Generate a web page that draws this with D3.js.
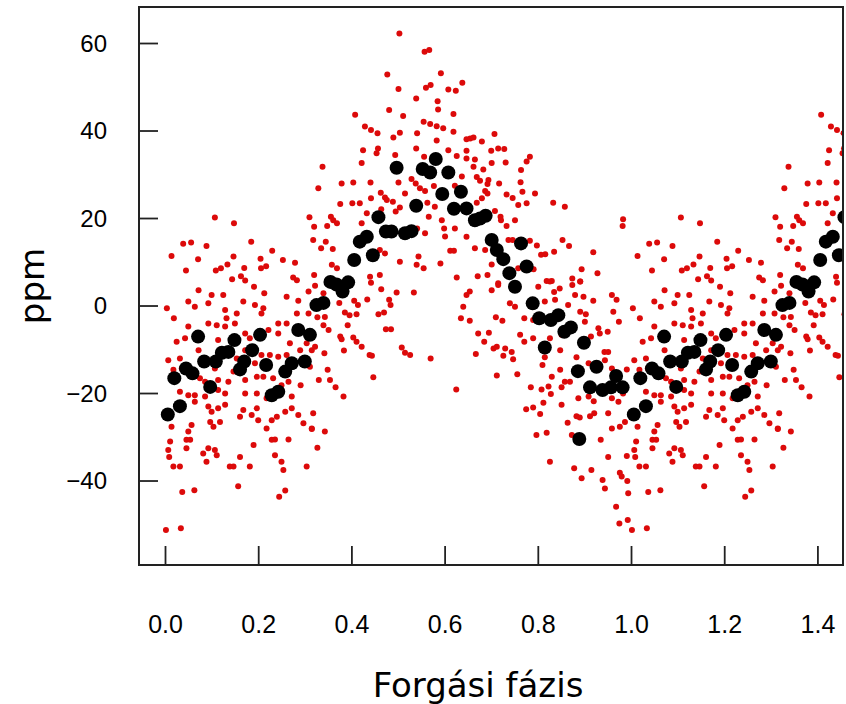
<!DOCTYPE html>
<html>
<head>
<meta charset="utf-8">
<script src="https://cdn.jsdelivr.net/npm/d3@7"></script>
<style>
  html, body { margin: 0; padding: 0; background: #fff; }
  svg { display: block; }
</style>
</head>
<body>
<svg id="chart" width="846" height="704"></svg>
<script>
// ---- Data (phase in [0,1), ppm) ----
// Binned means (large black dots)
const binnedPoints = [
  [0.006,-24.9],[0.020,-16.6],[0.032,-23.0],[0.045,-14.4],[0.059,-15.5],[0.071,-7.1],[0.084,-12.8],
  [0.097,-18.6],[0.109,-12.8],[0.122,-10.8],[0.136,-10.6],[0.149,-7.9],[0.161,-14.6],[0.170,-12.8],
  [0.187,-10.2],[0.204,-6.7],[0.217,-13.6],[0.229,-20.5],[0.243,-19.7],[0.258,-15.1],[0.272,-13.2],
  [0.286,-5.6],[0.300,-12.8],[0.311,-6.7],[0.325,0.1],[0.340,0.6],[0.355,5.4],[0.368,4.8],[0.381,3.2],
  [0.393,5.3],[0.406,10.4],[0.418,14.6],[0.433,15.7],[0.446,11.5],[0.458,20.2],[0.474,16.9],[0.486,16.9],
  [0.497,31.5],[0.515,16.5],[0.529,17.0],[0.539,22.8],[0.553,31.2],[0.569,30.4],[0.581,33.5],[0.595,25.5],
  [0.608,30.4],[0.620,22.1],[0.635,26.0],[0.647,22.2],[0.665,19.5],[0.676,19.9],[0.688,20.5],[0.701,15.0],
  [0.712,12.7],[0.726,10.6],[0.739,7.4],[0.751,4.3],[0.764,14.2],[0.776,8.9],[0.789,0.5],[0.803,-2.9],
  [0.815,-9.6],[0.828,-3.3],[0.844,-2.2],[0.857,-6.0],[0.871,-5.0],[0.886,-15.0],[0.889,-30.5],[0.899,-8.5],
  [0.912,-18.7],[0.926,-14.0],[0.939,-19.3],[0.957,-18.7],[0.968,-16.1],[0.982,-18.7]
];

// Individual measurements (small red dots)
const rawPoints = [
  [0.107,20.1],[0.148,18.8],[0.310,20.2],[0.320,18.0],[0.039,14.1],[0.056,14.4],[0.089,13.6],[0.185,14.6],
  [0.014,11.3],[0.071,10.6],[0.147,11.2],[0.230,12.5],[0.045,8.0],[0.109,8.0],[0.120,8.5],[0.134,9.4],
  [0.170,8.6],[0.205,10.7],[0.206,8.5],[0.217,9.0],[0.253,10.4],[0.279,9.8],[0.144,6.0],[0.163,6.7],
  [0.172,5.7],[0.275,6.4],[0.283,5.8],[0.320,7.0],
  [0.072,3.5],[0.100,2.4],[0.125,2.4],[0.191,4.3],[0.213,2.8],[0.261,2.0],[0.308,3.2],[0.050,0.9],
  [0.064,-0.3],[0.093,0.5],[0.168,0.9],[0.193,0.1],[0.211,-0.6],[0.004,-0.6],[0.019,-2.9],[0.129,-1.0],
  [0.132,-2.9],[0.154,-1.8],[0.207,-1.8],[0.286,1.1],[0.308,-1.8],[0.050,-4.8],[0.093,-4.1],[0.111,-4.5],
  [0.129,-4.8],[0.150,-4.1],[0.243,-4.1],[0.261,-4.1],[0.283,-1.8],[0.025,-8.3],[0.043,-7.5],[0.114,-7.9],
  [0.172,-6.4],[0.182,-7.5],[0.222,-5.6],[0.243,-6.4],[0.268,-8.6],[0.007,-12.5],[0.032,-12.1],[0.072,-10.2],
  [0.093,-12.5],[0.107,-14.4],[0.132,-10.2],[0.154,-12.1],[0.172,-10.2],[0.193,-13.2],[0.207,-11.3],[0.225,-11.3],
  [0.243,-11.7],[0.261,-11.3],[0.290,-10.2],[0.304,-8.6],[0.315,-10.2],[0.018,-14.7],[0.036,-14.4],[0.075,-16.6],
  [0.086,-17.4],[0.114,-17.0],[0.136,-17.4],[0.147,-15.1],[0.172,-17.0],[0.197,-16.3],[0.211,-16.3],[0.232,-16.6],
  [0.250,-18.2],[0.265,-17.4],[0.291,-18.2],[0.311,-14.0],[0.032,-19.7],[0.050,-20.5],[0.064,-20.5],[0.086,-20.8],
  [0.114,-19.3],[0.129,-20.1],[0.172,-20.1],[0.197,-20.1],[0.218,-21.2],[0.272,-20.8],[0.014,-27.7],[0.057,-27.3],
  [0.050,-28.8],[0.046,-30.7],[0.054,-30.7],[0.011,-31.1],[0.007,-33.0],[0.009,-34.6],[0.046,-32.6],[0.018,-36.8],
  [0.032,-36.8],[0.064,-22.0],[0.093,-23.1],[0.100,-24.3],[0.114,-23.5],[0.129,-22.7],[0.097,-26.6],[0.104,-27.7],
  [0.118,-26.6],[0.093,-32.6],[0.107,-33.0],[0.111,-34.2],[0.082,-33.8],[0.089,-35.7],[0.161,-25.4],[0.186,-25.0],
  [0.168,-23.9],[0.197,-23.5],[0.200,-26.2],[0.190,-31.9],[0.139,-36.8],[0.147,-36.8],[0.161,-34.6],[0.182,-36.8],
  [0.157,-41.3],[0.229,-26.2],[0.240,-25.4],[0.258,-24.3],[0.272,-23.5],[0.286,-25.0],[0.297,-26.9],[0.315,-28.1],
  [0.218,-28.1],[0.229,-30.7],[0.236,-30.6],[0.265,-30.6],[0.236,-34.2],[0.250,-35.7],[0.254,-37.6],[0.304,-36.8],
  [0.258,-42.3],[0.245,-43.7],[0.037,-42.6],[0.063,-42.2],[0.002,-51.3],[0.034,-50.9],
  [0.503,62.2],[0.557,58.0],[0.567,58.4],[0.477,52.8],[0.592,53.1],[0.501,49.5],[0.560,49.8],[0.570,50.4],
  [0.608,49.4],[0.624,49.1],[0.638,50.9],[0.539,47.3],[0.585,46.7],[0.586,44.8],[0.481,44.7],[0.511,43.3],
  [0.408,43.6],[0.619,43.8],[0.429,40.9],[0.442,40.1],[0.456,39.4],[0.504,39.5],[0.490,38.4],[0.555,42.0],
  [0.569,41.5],[0.583,41.0],[0.597,40.5],[0.541,39.4],[0.619,39.7],[0.647,38.0],[0.583,37.7],[0.425,35.5],
  [0.457,35.9],[0.454,34.8],[0.539,35.9],[0.556,34.0],[0.608,35.5],[0.626,34.2],[0.338,31.7],[0.422,32.6],
  [0.494,34.4],[0.647,33.6],[0.329,26.8],[0.379,27.9],[0.404,28.1],[0.441,28.1],[0.529,28.9],[0.538,27.9],
  [0.547,26.8],[0.472,24.7],[0.463,25.8],[0.442,24.5],[0.501,28.1],[0.558,26.2],[0.577,27.3],[0.622,27.4],
  [0.637,29.5],[0.376,23.2],[0.402,23.4],[0.418,23.4],[0.515,25.6],[0.489,23.7],[0.476,24.1],[0.563,23.5],
  [0.579,22.6],[0.348,18.2],[0.356,20.3],[0.361,19.5],[0.369,18.8],[0.433,21.1],[0.464,22.0],[0.495,21.5],
  [0.504,22.4],[0.566,20.3],[0.594,19.5],[0.647,15.7],[0.622,17.6],[0.422,18.8],[0.318,15.0],[0.345,14.6],
  [0.541,17.6],[0.558,16.5],[0.599,17.6],[0.601,15.8],[0.335,13.1],[0.360,12.9],[0.461,12.7],[0.472,11.9],
  [0.544,11.2],[0.540,9.3],[0.555,8.5],[0.504,10.0],[0.591,9.6],[0.612,12.5],[0.620,12.5],[0.358,9.3],
  [0.369,8.5],[0.440,6.6],[0.461,7.0],[0.626,6.4],
  [0.707,39.2],[0.655,38.2],[0.662,38.4],[0.680,37.5],[0.647,35.4],[0.715,35.9],[0.728,35.8],[0.700,35.4],
  [0.665,33.4],[0.701,32.6],[0.731,32.7],[0.783,34.0],[0.776,32.9],[0.662,31.7],[0.683,31.1],[0.764,31.0],
  [0.669,29.4],[0.676,28.5],[0.694,28.7],[0.692,27.8],[0.717,27.9],[0.763,28.2],[0.687,26.2],[0.692,25.6],
  [0.767,26.0],[0.794,25.6],[0.733,25.4],[0.746,24.6],[0.680,24.5],[0.669,23.5],[0.758,23.0],[0.776,23.4],
  [0.833,23.5],[0.858,22.6],[0.708,21.6],[0.720,20.3],[0.721,19.5],[0.751,19.5],[0.733,18.2],[0.853,15.0],
  [0.867,13.6],[0.983,19.7],[0.982,18.2],[0.665,13.1],[0.687,12.7],[0.737,15.0],[0.746,15.0],[0.783,14.8],
  [0.798,13.7],[0.807,11.6],[0.816,11.7],[0.835,12.3],[0.919,12.2],[0.701,9.4],[0.758,8.5],[0.791,8.3],
  [0.894,8.3],[0.928,7.4],[0.671,6.7],[0.692,7.0],[0.819,5.6],[0.830,5.6],[0.874,6.2],[0.891,5.5],[0.715,5.1],
  [0.322,4.5],[0.340,2.8],[0.442,5.2],[0.464,3.7],[0.497,3.0],[0.534,3.0],[0.374,0.6],[0.406,1.1],
  [0.414,0.1],[0.434,1.4],[0.481,1.3],[0.484,0.1],[0.327,-2.7],[0.343,-2.6],[0.386,-1.6],[0.396,-2.2],
  [0.411,-2.0],[0.458,-2.0],[0.470,-1.6],[0.340,-4.5],[0.351,-5.6],[0.392,-4.5],[0.474,-5.4],[0.485,-5.4],
  [0.376,-7.1],[0.379,-7.7],[0.404,-7.3],[0.411,-8.3],[0.422,-9.4],[0.322,-9.4],[0.384,-10.3],[0.342,-10.9],
  [0.439,-11.3],[0.444,-11.5],[0.508,-9.6],[0.515,-10.8],[0.526,-11.3],[0.570,-12.1],[0.349,-14.7],[0.330,-17.0],
  [0.354,-17.0],[0.366,-18.7],[0.447,-16.4],[0.383,-20.8],[0.625,-19.2],[0.318,-24.6],[0.315,-28.2],[0.343,-28.8],
  [0.327,-32.5],[0.640,-0.3],[0.635,-2.9],
  [0.715,4.7],[0.701,3.5],[0.654,3.2],[0.647,2.4],[0.801,4.3],[0.826,5.5],[0.835,3.1],[0.847,3.9],
  [0.874,4.7],[0.891,5.5],[0.880,2.4],[0.898,2.0],[0.919,1.1],[0.959,2.4],[0.969,1.3],[0.740,0.5],
  [0.751,-0.3],[0.815,0.9],[0.837,1.3],[0.865,0.1],[0.891,-1.4],[0.903,-2.0],[0.710,-2.7],[0.724,-3.5],
  [0.654,-3.5],[0.771,-2.9],[0.790,-3.3],[0.901,-3.7],[0.930,-5.2],[0.950,-6.0],[0.962,-1.4],[0.974,-3.7],
  [0.672,-6.4],[0.695,-6.2],[0.685,-8.3],[0.762,-6.7],[0.771,-8.3],[0.790,-7.5],[0.826,-7.5],[0.851,-6.7],
  [0.914,-7.1],[0.933,-6.4],[0.705,-9.8],[0.712,-9.4],[0.730,-9.8],[0.744,-10.6],[0.726,-11.5],[0.747,-12.3],
  [0.667,-11.1],[0.848,-10.2],[0.815,-11.8],[0.810,-13.6],[0.883,-11.8],[0.909,-13.2],[0.943,-10.6],[0.951,-10.6],
  [0.944,-12.5],[0.959,-14.4],[0.991,-14.6],[0.712,-16.0],[0.756,-15.7],[0.830,-16.3],[0.848,-14.7],[0.858,-17.4],
  [0.785,-18.7],[0.808,-19.2],[0.823,-18.5],[0.828,-20.2],[0.851,-18.7],[0.869,-17.4],[0.887,-21.2],[0.909,-20.8],
  [0.920,-21.9],[0.934,-19.7],[0.959,-21.2],[0.973,-22.0],[0.983,-20.1],[0.775,-23.7],[0.790,-23.3],[0.812,-22.2],
  [0.805,-24.8],[0.851,-22.7],[0.883,-25.3],[0.890,-25.6],[0.912,-25.3],[0.921,-24.6],[0.951,-24.6],[0.959,-28.1],
  [0.976,-27.7],[0.987,-26.6],[0.864,-26.8],[0.797,-29.6],[0.819,-29.1],[0.873,-29.6],[0.935,-30.7],[0.951,-34.6],
  [0.991,-34.4],[0.826,-35.7],[0.878,-37.2],[0.894,-39.5],[0.915,-37.6],[0.939,-39.9],[0.944,-41.8],[0.976,-38.2],
  [0.980,-39.1],[0.992,-40.1],[0.994,-42.9],[0.968,-46.0],[0.993,-49.0],[0.975,-49.8]
];

const xTicks = [0.0, 0.2, 0.4, 0.6, 0.8, 1.0, 1.2, 1.4];
const yTicks = [-40, -20, 0, 20, 40, 60];
const xTitle = "Forgási fázis";
const yTitle = "ppm";

// The folded light curve is shown over 1.45 cycles: the same phases repeated one cycle later.
const repeatUpTo = 0.46;
function extend(points) {
  return points.concat(points.filter(d => d[0] < repeatUpTo).map(d => [d[0] + 1, d[1]]));
}
const rawAll = extend(rawPoints);
const binnedAll = extend(binnedPoints);

// ---- Layout ----
const svg = d3.select("#chart");
const plot = { left: 139, right: 843, top: 7, bottom: 565 };

const x = d3.scaleLinear().domain([-0.0558, 1.4549]).range([plot.left, plot.right]);
const y = d3.scaleLinear().domain([-59.31, 68.23]).range([plot.bottom, plot.top]);

svg.append("defs").append("clipPath").attr("id", "plotclip")
  .append("rect")
  .attr("x", plot.left).attr("y", plot.top)
  .attr("width", plot.right - plot.left).attr("height", plot.bottom - plot.top);

const pts = svg.append("g").attr("clip-path", "url(#plotclip)");

pts.selectAll("circle.raw").data(rawAll).join("circle")
  .attr("class", "raw")
  .attr("cx", d => x(d[0])).attr("cy", d => y(d[1]))
  .attr("r", 3.0)
  .attr("fill", "#dc0a0a");

pts.selectAll("circle.bin").data(binnedAll).join("circle")
  .attr("class", "bin")
  .attr("cx", d => x(d[0])).attr("cy", d => y(d[1]))
  .attr("r", 7.0)
  .attr("fill", "#000");

// Axes: ticks point inward (R style, tcl > 0)
const tickLen = 19;
const xAxis = d3.axisBottom(x).tickValues(xTicks).tickSize(-tickLen).tickPadding(0)
  .tickFormat(d3.format(".1f"));
const gx = svg.append("g").attr("transform", `translate(0,${plot.bottom})`).call(xAxis);
gx.select(".domain").remove();
gx.selectAll(".tick line").attr("stroke", "#222").attr("stroke-width", 1.8);
gx.selectAll(".tick text")
  .attr("y", 68)
  .attr("dy", 0)
  .attr("font-family", "'Liberation Sans', Arial, sans-serif")
  .attr("font-size", 25)
  .attr("fill", "#000");

const yAxis = d3.axisLeft(y).tickValues(yTicks).tickSize(-tickLen).tickPadding(0)
  .tickFormat(d => d < 0 ? "\u2212" + Math.abs(d) : String(d));
const gy = svg.append("g").attr("transform", `translate(${plot.left},0)`).call(yAxis);
gy.select(".domain").remove();
gy.selectAll(".tick line").attr("stroke", "#222").attr("stroke-width", 1.8);
gy.selectAll(".tick text")
  .attr("x", -32)
  .attr("dy", "0.35em")
  .attr("font-family", "'Liberation Sans', Arial, sans-serif")
  .attr("font-size", 24)
  .attr("fill", "#000");

// Box
svg.append("rect")
  .attr("x", plot.left).attr("y", plot.top)
  .attr("width", plot.right - plot.left).attr("height", plot.bottom - plot.top)
  .attr("fill", "none").attr("stroke", "#222").attr("stroke-width", 2);

// Titles
svg.append("text")
  .attr("x", 478).attr("y", 697)
  .attr("text-anchor", "middle")
  .attr("font-family", "'DejaVu Sans', sans-serif")
  .attr("font-size", 34)
  .attr("fill", "#000")
  .text(xTitle);

svg.append("text")
  .attr("transform", `translate(44,${(plot.top + plot.bottom) / 2}) rotate(-90)`)
  .attr("text-anchor", "middle")
  .attr("font-family", "'DejaVu Sans', sans-serif")
  .attr("font-size", 34)
  .attr("fill", "#000")
  .text(yTitle);
</script>
</body>
</html>
